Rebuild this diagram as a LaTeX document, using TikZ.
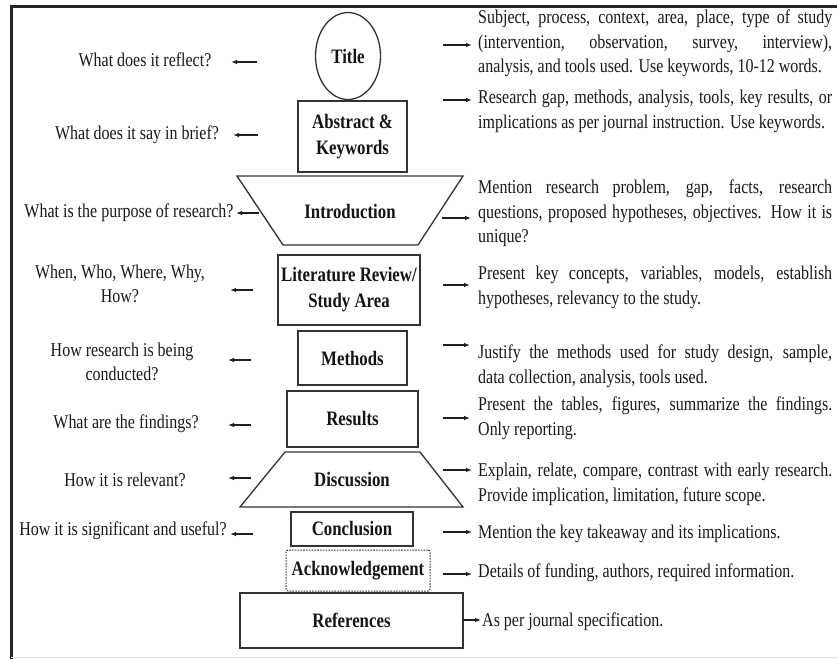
\documentclass[tikz,border=0pt]{standalone}
\usepackage{fontspec}
\setmainfont{Liberation Serif}[FakeStretch=0.82]
\usetikzlibrary{arrows.meta, shapes.geometric}

\begin{document}
\begin{tikzpicture}[
  x=1pt, y=-1pt,
  ink/.style={draw=black!80, line width=1.3pt},
  part/.style={ink, rectangle, inner sep=0pt, align=center, text=black!92,
    font=\bfseries\fontsize{20.5}{26}\selectfont},
  ask/.style={inner sep=0pt, align=center, text=black!90,
    font=\fontsize{19.5}{23.5}\selectfont},
  desc/.style={anchor=north west, inner sep=0pt, text width=354pt, align=justify,
    text=black!90, font=\fontsize{19.5}{24.5}\selectfont},
  pt/.style={-{Latex[length=6pt, width=4.5pt]}, line width=1.1pt, black!88},
]
\useasboundingbox (0,0) rectangle (837,659);

% frame (top and left edge only, faint bottom)
\draw[line width=3pt, black!85] (837,6.5) -- (11,6.5) -- (11,659);
\draw[line width=0.8pt, black!12] (11,657.5) -- (837,657.5);

% sections, top to bottom
\node[part, ellipse, minimum width=65pt, minimum height=87pt] (title) at (348,56) {Title};
\node[part, minimum width=109pt, minimum height=71pt] (abstract) at (352.5,136.5) {Abstract \&\\Keywords};

% introduction: wide at the top
\draw[ink] (237,176) -- (463,176) -- (418,245) -- (283,245) -- cycle;
\node[part, draw=none] (intro) at (350,212) {Introduction};

\node[part, minimum width=142pt, minimum height=70pt] (lit) at (349,290) {Literature Review/\\Study Area};
\node[part, minimum width=109pt, minimum height=54pt] (methods) at (352.5,358) {Methods};
\node[part, minimum width=131pt, minimum height=56pt] (results) at (352.5,419) {Results};

% discussion: wide at the bottom
\draw[ink] (285,452) -- (420,452) -- (463,507) -- (240,507) -- cycle;
\node[part, draw=none] (discussion) at (352,480) {Discussion};

\node[part, minimum width=122pt, minimum height=34pt] (conclusion) at (352,529) {Conclusion};
\node[part, line width=1pt, dash pattern=on 1.6pt off 1.2pt, rounded corners=2pt,
  minimum width=144pt, minimum height=41pt] (ack) at (358,570.5) {Acknowledgement};
\node[part, minimum width=223pt, minimum height=55pt] (refs) at (351.5,620.5) {References};

% questions on the left
\node[ask] (qTitle) at (145,60) {What does it reflect?};
\node[ask] (qAbstract) at (137,135) {What does it say in brief?};
\node[ask] (qIntro) at (129,213) {What is the purpose of research?};
\node[ask] (qLit) at (120,284) {When, Who, Where, Why,\\How?};
\node[ask] (qMethods) at (122,362) {How research is being\\conducted?};
\node[ask] (qResults) at (126,424) {What are the findings?};
\node[ask] (qDiscussion) at (125,480) {How it is relevant?};
\node[ask] (qConclusion) at (123,531) {How it is significant and useful?};

\draw[pt] (257,62) coordinate (lTitle) -- ++(-26,0);
\draw[pt] (258,135) coordinate (lAbstract) -- ++(-25,0);
\draw[pt] (259,213) coordinate (lIntro) -- ++(-23,0);
\draw[pt] (253,290) coordinate (lLit) -- ++(-23,0);
\draw[pt] (251,360) coordinate (lMethods) -- ++(-23,0);
\draw[pt] (251,425) coordinate (lResults) -- ++(-23,0);
\draw[pt] (251,478) coordinate (lDiscussion) -- ++(-23,0);
\draw[pt] (253,534) coordinate (lConclusion) -- ++(-23,0);

% what goes in each part, on the right
\node[desc] (dTitle) at (478,10) {Subject, process, context, area, place, type of study\linebreak
  (intervention, observation, survey, interview),\linebreak
  analysis, and tools used. Use keywords, 10-12 words.};
\node[desc] (dAbstract) at (478,90) {Research gap, methods, analysis, tools, key results, or\linebreak
  implications as per journal instruction. Use keywords.};
\node[desc] (dIntro) at (478,180) {Mention research problem, gap, facts, research\linebreak
  questions, proposed hypotheses, objectives. How it is\linebreak unique?};
\node[desc] (dLit) at (478,266) {Present key concepts, variables, models, establish\linebreak
  hypotheses, relevancy to the study.};
\node[desc] (dMethods) at (478,345) {Justify the methods used for study design, sample,\linebreak
  data collection, analysis, tools used.};
\node[desc] (dResults) at (478,397) {Present the tables, figures, summarize the findings.\linebreak
  Only reporting.};
\node[desc] (dDiscussion) at (478,463) {Explain, relate, compare, contrast with early research.\linebreak
  Provide implication, limitation, future scope.};
\node[desc] (dConclusion) at (478,525) {Mention the key takeaway and its implications.};
\node[desc] (dAck) at (478,564) {Details of funding, authors, required information.};
\node[desc] (dRefs) at (482,613) {As per journal specification.};

\draw[pt] (443,45) coordinate (rTitle) -- ++(29,0);
\draw[pt] (443,100) coordinate (rAbstract) -- ++(29,0);
\draw[pt] (442,218) coordinate (rIntro) -- ++(29,0);
\draw[pt] (443,285) coordinate (rLit) -- ++(27,0);
\draw[pt] (443,345) coordinate (rMethods) -- ++(27,0);
\draw[pt] (443,418) coordinate (rResults) -- ++(27,0);
\draw[pt] (443,470) coordinate (rDiscussion) -- ++(29,0);
\draw[pt] (443,532) coordinate (rConclusion) -- ++(29,0);
\draw[pt] (443,574) coordinate (rAck) -- ++(29,0);
\draw[pt] (463,620) coordinate (rRefs) -- ++(18,0);

\end{tikzpicture}
\end{document}
